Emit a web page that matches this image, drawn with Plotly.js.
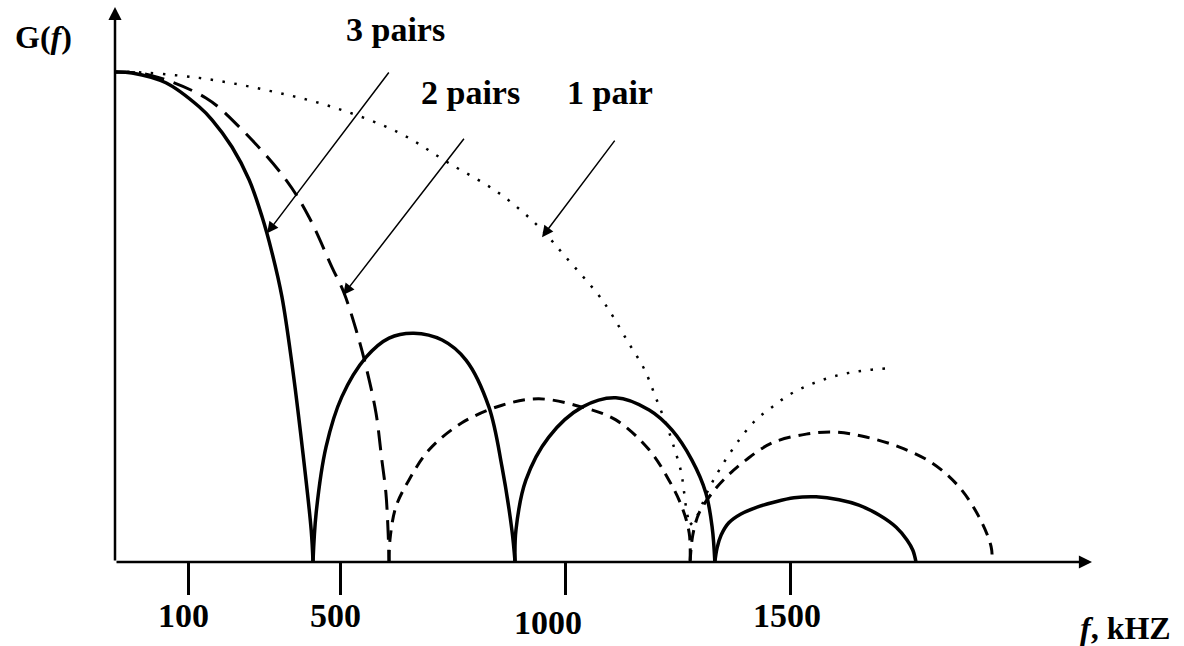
<!DOCTYPE html>
<html>
<head>
<meta charset="utf-8">
<script src="https://cdn.plot.ly/plotly-3.0.1.min.js"></script>
<style>
  html, body { margin: 0; padding: 0; background: #ffffff; }
  #chart { width: 1184px; height: 646px; }
</style>
</head>
<body>
<div id="chart"></div>
<script>
// Spectral density G(f) of the line signal, f in kHz, G relative to its peak.
// Lobes are separated by null so each one is smoothed on its own.

// 3 pairs (solid)
const pairs3F = [0, 38, 113, 187, 216, 260, 298, 327, 349, 371, 393, 416, 436, 440, null,
  440, 447, 469, 504, 558, 609, 664, 727, 780, 831, 860, 882, 889, null,
  889, 891, 913, 964, 1038, 1113, 1187, 1238, 1282, 1313, 1327, 1333, null,
  1333, 1338, 1347, 1364, 1391, 1427, 1464, 1509, 1558, 1609, 1653, 1698, 1736, 1760, 1773, 1780];
const pairs3G = [1.0, 0.998, 0.978, 0.929, 0.902, 0.847, 0.780, 0.704, 0.631, 0.541, 0.406, 0.235, 0.065, 0, null,
  0, 0.1, 0.235, 0.337, 0.418, 0.457, 0.467, 0.453, 0.412, 0.316, 0.194, 0.065, 0, null,
  0, 0.065, 0.167, 0.255, 0.316, 0.335, 0.310, 0.269, 0.208, 0.141, 0.071, 0, null,
  0, 0.029, 0.055, 0.080, 0.098, 0.112, 0.122, 0.131, 0.133, 0.127, 0.116, 0.096, 0.071, 0.045, 0.024, 0];

// 2 pairs: main lobe (long dash)
const pairs2MainF = [0, 76, 202, 276, 380, 431, 482, 509, 536, 558, 580, 593, 602, 607, 609];
const pairs2MainG = [1, 0.994, 0.947, 0.888, 0.780, 0.704, 0.602, 0.549, 0.473, 0.398, 0.304, 0.208, 0.141, 0.059, 0];

// 2 pairs: side lobes (short dash)
const pairs2SideF = [609, 611, 624, 653, 698, 771, 860, 942, 1038, 1113, 1187, 1231, 1260, 1276, 1278, null,
  1278, 1284, 1298, 1327, 1358, 1402, 1460, 1536, 1602, 1669, 1742, 1816, 1876, 1920, 1947, 1949];
const pairs2SideG = [0, 0.045, 0.112, 0.167, 0.229, 0.284, 0.320, 0.333, 0.316, 0.290, 0.229, 0.167, 0.112, 0.059, 0, null,
  0, 0.055, 0.1, 0.141, 0.173, 0.208, 0.243, 0.261, 0.265, 0.255, 0.235, 0.202, 0.153, 0.092, 0.031, 0];

// 1 pair (dotted)
const pairs1F = [0, 38, 187, 336, 482, 631, 742, 853, 942, 1002, 1076, 1102, 1140, 1176, 1202, 1227, 1244, 1258, 1264, 1271, 1278, null,
  1278, 1291, 1320, 1349, 1387, 1424, 1460, 1498, 1542, 1587, 1631, 1676, 1727];
const pairs1G = [1, 1, 0.988, 0.963, 0.929, 0.876, 0.814, 0.753, 0.684, 0.622, 0.543, 0.508, 0.449, 0.394, 0.335, 0.276, 0.229, 0.184, 0.147, 0.1, 0.076, null,
  0.076, 0.09, 0.15, 0.197, 0.249, 0.290, 0.316, 0.341, 0.361, 0.376, 0.386, 0.392, 0.396];

// Frequency axis ticks
const tickVals = [164, 500, 1000, 1500];
const tickLabels = ['100', '500', '1000', '1500'];

// Series captions and where their pointers land on the curves
const seriesNames = ['3 pairs', '2 pairs', '1 pair'];
const pointerHeadF = [338, 507, 949];
const pointerHeadG = [0.671, 0.545, 0.663];
const pointerTailF = [611, 778, 1113];
const pointerTailG = [1.002, 0.867, 0.863];

// ---- layout geometry (pixels) ----
const W = 1184, H = 646;
const M = { l: 115, r: 92, t: 7, b: 84 };
const plotW = W - M.l - M.r;         // 977
const plotH = H - M.t - M.b;         // 555
const X_MAX = plotW / 0.45;          // 0.45 px per kHz
const Y_MAX = plotH / 490;           // 490 px per unit of G
const FONT = 'Liberation Serif, Times New Roman, serif';

const paperX = px => (px - M.l) / plotW;
const paperY = py => (H - M.b - py) / plotH;

const traces = [
  { x: pairs3F, y: pairs3G, mode: 'lines', connectgaps: false,
    line: { color: '#000', width: 3.5, shape: 'spline', smoothing: 1 }, name: seriesNames[0] },
  { x: pairs2MainF, y: pairs2MainG, mode: 'lines',
    line: { color: '#000', width: 3, dash: '20px,10px', shape: 'spline', smoothing: 1 }, name: seriesNames[1] },
  { x: pairs2SideF, y: pairs2SideG, mode: 'lines', connectgaps: false,
    line: { color: '#000', width: 3, dash: '12px,8px', shape: 'spline', smoothing: 1 }, name: seriesNames[1] },
  { x: pairs1F, y: pairs1G, mode: 'lines', connectgaps: false,
    line: { color: '#000', width: 2.5, dash: '2.5px,9.5px', shape: 'spline', smoothing: 1 }, name: seriesNames[2] }
];

const annotations = [];

// axis lines with arrow heads
annotations.push({ xref: 'x', yref: 'y', axref: 'x', ayref: 'y', x: X_MAX, y: 0, ax: 0, ay: 0,
  text: '', showarrow: true, arrowhead: 2, arrowsize: 1.05, arrowwidth: 2.5, arrowcolor: '#000' });
annotations.push({ xref: 'x', yref: 'y', axref: 'x', ayref: 'y', x: 0, y: Y_MAX, ax: 0, ay: 0,
  text: '', showarrow: true, arrowhead: 2, arrowsize: 1.05, arrowwidth: 2.5, arrowcolor: '#000' });

// pointer arrows from captions to curves
for (let i = 0; i < seriesNames.length; i++) {
  annotations.push({ xref: 'x', yref: 'y', axref: 'x', ayref: 'y',
    x: pointerHeadF[i], y: pointerHeadG[i], ax: pointerTailF[i], ay: pointerTailG[i],
    text: '', showarrow: true, arrowhead: 2, arrowsize: 1.5, arrowwidth: 1.5, arrowcolor: '#000' });
}

// series captions
const captionPos = [[395, 29], [470, 92], [610, 92]];
seriesNames.forEach((s, i) => {
  annotations.push({ xref: 'paper', yref: 'paper', x: paperX(captionPos[i][0]), y: paperY(captionPos[i][1]),
    xanchor: 'center', yanchor: 'middle', showarrow: false, text: '<b>' + s + '</b>',
    font: { family: FONT, size: 34, color: '#000' } });
});

// tick labels
const tickShift = [-5, -5, -17, -3];
const tickLabelY = [616, 616, 622, 616];
tickLabels.forEach((t, i) => {
  annotations.push({ xref: 'x', yref: 'paper', x: tickVals[i], y: paperY(tickLabelY[i]), xshift: tickShift[i],
    xanchor: 'center', yanchor: 'middle', showarrow: false, text: '<b>' + t + '</b>',
    font: { family: FONT, size: 34, color: '#000' } });
});

// axis titles
annotations.push({ xref: 'paper', yref: 'paper', x: paperX(43), y: paperY(37), xanchor: 'center', yanchor: 'middle',
  showarrow: false, text: '<b>G(<i>f</i>)</b>', font: { family: FONT, size: 32, color: '#000' } });
annotations.push({ xref: 'paper', yref: 'paper', x: paperX(1125), y: paperY(628), xanchor: 'center', yanchor: 'middle',
  showarrow: false, text: '<b><i>f</i>, kHZ</b>', font: { family: FONT, size: 32, color: '#000' } });

const layout = {
  width: W, height: H,
  margin: M,
  paper_bgcolor: '#fff', plot_bgcolor: '#fff',
  showlegend: false,
  xaxis: { range: [0, X_MAX], showgrid: false, zeroline: false, showline: false,
    tickmode: 'array', tickvals: tickVals, ticktext: tickLabels, showticklabels: false,
    ticks: 'outside', ticklen: 32, tickwidth: 3, tickcolor: '#000', fixedrange: true },
  yaxis: { range: [0, Y_MAX], showgrid: false, zeroline: false, showline: false,
    showticklabels: false, ticks: '', fixedrange: true },
  annotations: annotations
};

Plotly.newPlot('chart', traces, layout, { staticPlot: true, displayModeBar: false });
</script>
</body>
</html>
